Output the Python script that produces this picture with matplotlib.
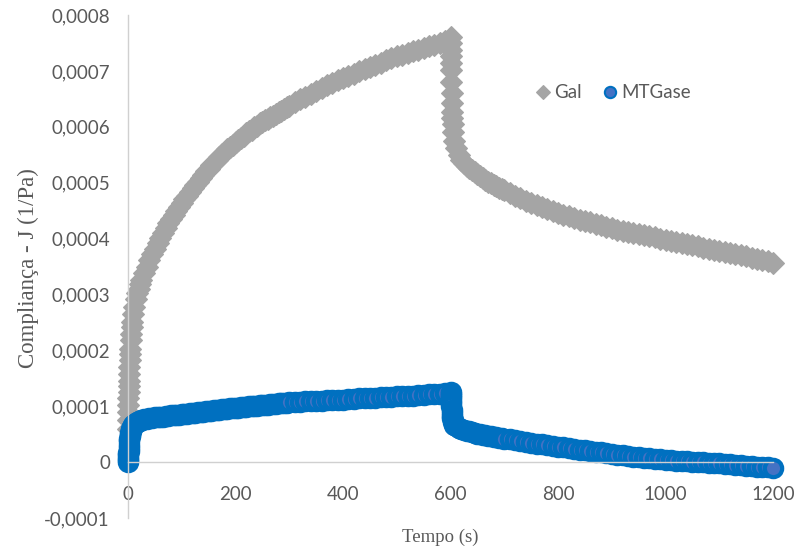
import matplotlib.pyplot as plt
import numpy as np
from matplotlib.ticker import FuncFormatter, MultipleLocator

plt.switch_backend("Agg")

# creep (0-600 s) and recovery (600-1200 s) sampling times, seconds
time_creep = [0, 0.2, 0.4, 0.6, 0.8, 1, 1.3, 1.6, 2, 2.5, 3, 3.5, 4, 5, 6, 7, 8,
              10, 12, 15, 20, 25, 30, 35, 40, 45, 50, 55, 60, 65, 70, 80, 90,
              100, 110, 120, 130, 140, 150, 160, 170, 180, 190, 200, 210, 220,
              230, 240, 250, 260, 270, 280, 290, 300, 310, 320, 330, 340, 350,
              360, 370, 380, 390, 400, 410, 420, 430, 440, 450, 460, 470, 480,
              490, 500, 510, 520, 530, 540, 550, 560, 570, 580, 590, 600]
time_recovery = [600.2, 600.4, 600.6, 600.8, 601, 601.5, 602, 602.5, 603, 603.5,
                 604, 605, 607, 610, 615, 620, 625, 630, 640, 650, 660, 670, 680,
                 690, 700, 710, 720, 730, 740, 750, 760, 770, 780, 790, 800, 810,
                 820, 830, 840, 850, 860, 870, 880, 890, 900, 910, 920, 930, 940,
                 950, 960, 970, 980, 990, 1000, 1010, 1020, 1030, 1040, 1050,
                 1060, 1070, 1080, 1090, 1100, 1110, 1120, 1130, 1140, 1150, 1160,
                 1170, 1180, 1190, 1200]
# denser readings where the curves change fastest
time_dense = [17.5, 22.5, 75, 85, 95, 105, 115, 125, 135, 145, 155, 165, 175,
              185, 195, 205, 215, 225, 235, 245, 255, 265, 275, 285, 295,
              635, 645, 655, 665, 675, 685, 695]

# compliance J in units of 1e-4 1/Pa
gal_creep = [0.6, 0.75, 0.9, 1.02, 1.14, 1.25, 1.36, 1.46, 1.58, 1.7, 1.82, 1.93,
             2.03, 2.18, 2.3, 2.41, 2.5, 2.65, 2.77, 2.92, 3.1, 3.25, 3.38, 3.5,
             3.61, 3.72, 3.82, 3.92, 4.01, 4.1, 4.19, 4.35, 4.5, 4.64, 4.77, 4.9,
             5.02, 5.14, 5.25, 5.36, 5.46, 5.55, 5.64, 5.72, 5.8, 5.88, 5.95,
             6.02, 6.09, 6.14, 6.2, 6.26, 6.32, 6.38, 6.44, 6.49, 6.54, 6.59,
             6.64, 6.69, 6.74, 6.79, 6.83, 6.87, 6.91, 6.95, 6.99, 7.03, 7.07,
             7.11, 7.15, 7.19, 7.23, 7.26, 7.29, 7.32, 7.35, 7.38, 7.41, 7.44,
             7.47, 7.5, 7.54, 7.6]
gal_recovery = [7.5, 7.38, 7.26, 7.14, 7.02, 6.8, 6.6, 6.42, 6.27, 6.15, 6.05,
                5.9, 5.75, 5.62, 5.5, 5.41, 5.35, 5.3, 5.22, 5.15, 5.08, 5.02,
                4.96, 4.91, 4.86, 4.81, 4.76, 4.72, 4.68, 4.63, 4.6, 4.56, 4.53,
                4.49, 4.46, 4.43, 4.4, 4.37, 4.34, 4.31, 4.29, 4.26, 4.24, 4.21,
                4.19, 4.16, 4.14, 4.12, 4.1, 4.08, 4.06, 4.04, 4.02, 4.0, 3.98,
                3.96, 3.94, 3.92, 3.9, 3.88, 3.86, 3.84, 3.82, 3.8, 3.78, 3.76,
                3.74, 3.72, 3.7, 3.68, 3.66, 3.64, 3.61, 3.59, 3.56]
gal_dense = [3.02, 3.18, 4.27, 4.43, 4.57, 4.71, 4.84, 4.96, 5.08, 5.2, 5.31,
             5.41, 5.51, 5.6, 5.68, 5.76, 5.84, 5.92, 5.99, 6.06, 6.12, 6.17,
             6.23, 6.29, 6.35, 5.26, 5.185, 5.115, 5.05, 4.99, 4.935, 4.885]

mtg_creep = [0.0, 0.04, 0.08, 0.12, 0.16, 0.2, 0.26, 0.31, 0.37, 0.42, 0.46, 0.49,
             0.52, 0.56, 0.59, 0.61, 0.63, 0.66, 0.68, 0.7, 0.73, 0.75, 0.765,
             0.775, 0.785, 0.79, 0.8, 0.805, 0.81, 0.815, 0.82, 0.835, 0.845,
             0.855, 0.865, 0.875, 0.89, 0.9, 0.915, 0.93, 0.94, 0.95, 0.96, 0.97,
             0.98, 0.99, 1.0, 1.01, 1.02, 1.03, 1.04, 1.05, 1.06, 1.07, 1.075,
             1.08, 1.085, 1.09, 1.095, 1.1, 1.105, 1.11, 1.115, 1.12, 1.125,
             1.13, 1.14, 1.145, 1.15, 1.155, 1.16, 1.165, 1.17, 1.175, 1.18,
             1.185, 1.19, 1.195, 1.2, 1.21, 1.215, 1.225, 1.235, 1.25]
mtg_recovery = [1.22, 1.18, 1.14, 1.1, 1.06, 1.0, 0.94, 0.88, 0.83, 0.79, 0.76,
                0.71, 0.67, 0.64, 0.61, 0.59, 0.575, 0.56, 0.535, 0.51, 0.49,
                0.47, 0.45, 0.435, 0.42, 0.405, 0.39, 0.375, 0.36, 0.345, 0.33,
                0.315, 0.3, 0.288, 0.276, 0.264, 0.25, 0.237, 0.224, 0.211, 0.198,
                0.185, 0.172, 0.16, 0.148, 0.136, 0.124, 0.112, 0.1, 0.09, 0.08,
                0.07, 0.061, 0.052, 0.044, 0.036, 0.028, 0.021, 0.014, 0.007, 0.0,
                -0.006, -0.012, -0.018, -0.024, -0.032, -0.04, -0.048, -0.056,
                -0.064, -0.072, -0.08, -0.087, -0.093, -0.1]
mtg_dense = [0.715, 0.74, 0.828, 0.84, 0.85, 0.86, 0.87, 0.882, 0.895, 0.908,
             0.922, 0.935, 0.945, 0.955, 0.965, 0.975, 0.985, 0.995, 1.005,
             1.015, 1.025, 1.035, 1.045, 1.055, 1.065, 0.548, 0.522, 0.5, 0.48,
             0.46, 0.443, 0.428]

time = np.array(time_creep + time_recovery + time_dense)
order = np.argsort(time, kind="stable")
time = time[order]
j_gal = (np.array(gal_creep + gal_recovery + gal_dense) * 1e-4)[order]
j_mtg = (np.array(mtg_creep + mtg_recovery + mtg_dense) * 1e-4)[order]

TEXT = "#595959"
AXIS = "#D0D0D0"

fig = plt.figure(figsize=(7.98, 5.5), dpi=100)
ax = fig.add_axes([0.1604, 0.0582, 0.8083, 0.9145])

ax.plot(time, j_gal, linestyle="none", marker="D", markersize=11.5,
        color="#A5A5A5", markeredgewidth=0.8, clip_on=False, label="Gal")
ax.plot(time, j_mtg, linestyle="none", marker="o", markersize=12.5,
        markerfacecolor="#4472C4", markeredgecolor="#0070C0",
        markeredgewidth=3.0, clip_on=False, label="MTGase")

ax.set_xlim(0, 1200)
ax.set_ylim(-0.0001, 0.0008)
ax.xaxis.set_major_locator(MultipleLocator(200))
ax.yaxis.set_major_locator(MultipleLocator(0.0001))


def comma_fmt(v, pos):
    v = round(v, 6)
    if v == 0:
        return "0"
    return f"{v:.4f}".replace(".", ",")


ax.yaxis.set_major_formatter(FuncFormatter(comma_fmt))

for side in ("top", "right"):
    ax.spines[side].set_visible(False)
ax.spines["bottom"].set_position(("data", 0))
ax.spines["left"].set_color(AXIS)
ax.spines["bottom"].set_color(AXIS)
ax.spines["left"].set_linewidth(1.0)
ax.spines["bottom"].set_linewidth(1.0)
ax.set_axisbelow(True)

ax.tick_params(axis="both", length=0, colors=TEXT)
ax.tick_params(axis="y", pad=13)
ax.tick_params(axis="x", pad=17)
for lab in ax.get_xticklabels() + ax.get_yticklabels():
    lab.set_fontfamily("Lato")
    lab.set_fontsize(13.5)

ax.set_xlabel("Tempo (s)", family="Liberation Serif", size=13.5, color=TEXT,
              va="center")
ax.set_ylabel("Compliança - J (1/Pa)", family="Liberation Serif", size=16.5,
              color=TEXT, va="center")
ax.xaxis.set_label_coords(0.484, -0.038)
ax.yaxis.set_label_coords(-0.155, 0.497)

leg = ax.legend(loc="center", bbox_to_anchor=(0.75, 0.845), ncol=2,
                frameon=False, markerscale=0.65, handletextpad=0.1,
                columnspacing=1.0, handlelength=1.0,
                prop={"family": "Lato", "size": 13.5})
for txt in leg.get_texts():
    txt.set_color(TEXT)
# thinner edge on the legend circle so its lighter fill shows
leg.legend_handles[1].set_markeredgewidth(1.5)

fig.savefig("out.png", dpi=100)
